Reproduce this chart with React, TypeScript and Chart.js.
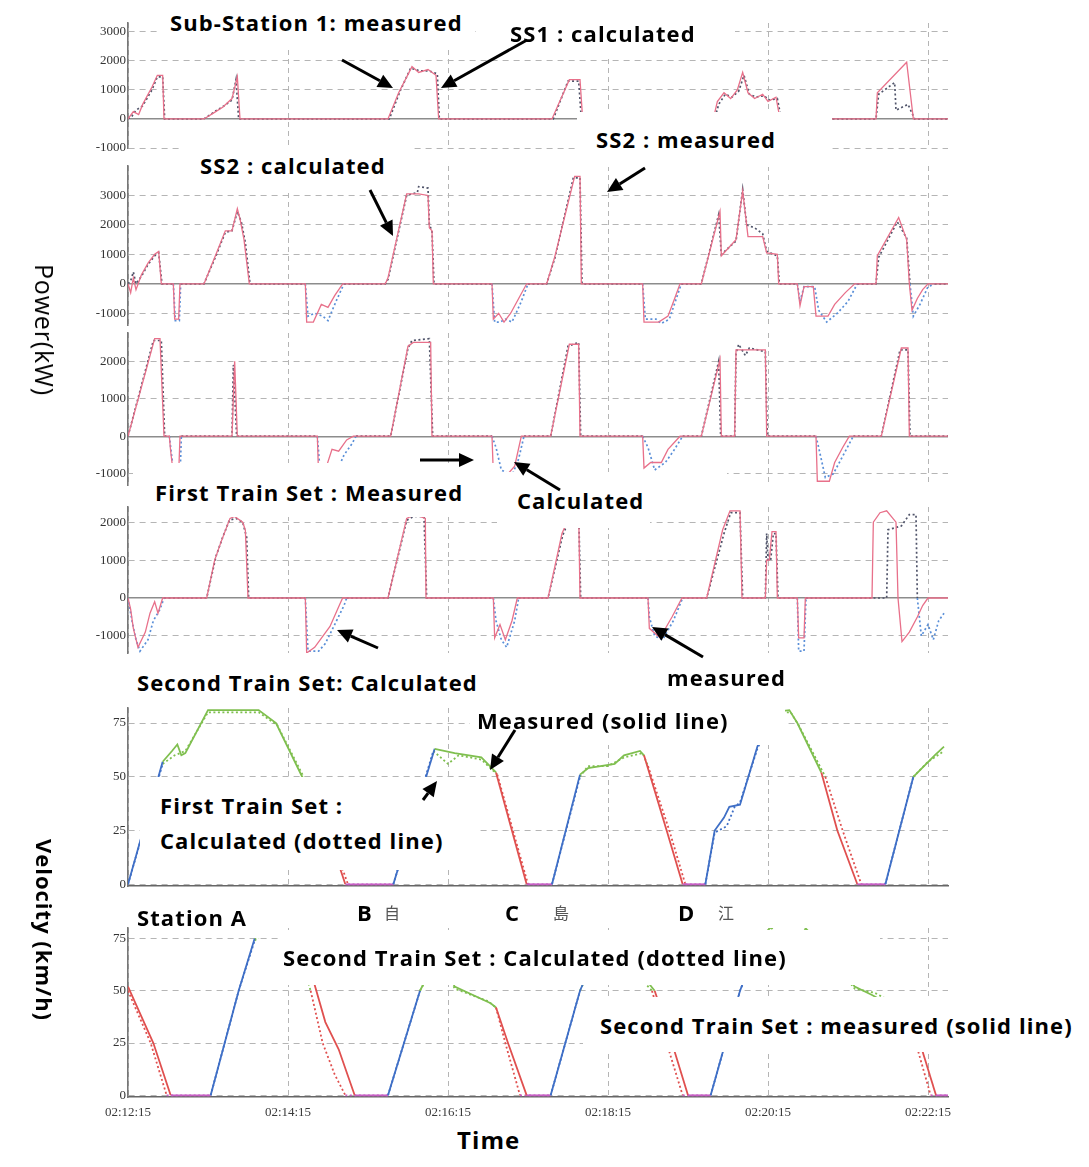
import React, { useEffect, useRef } from "react";
import { Chart, registerables } from "chart.js";
Chart.register(...registerables);

// ---------------- DATA ----------------
const timeTicks = [0, 120, 240, 360, 480, 600];
const timeLabels = ["02:12:15", "02:14:15", "02:16:15", "02:18:15", "02:20:15", "02:22:15"];
const timeMax = 615;

const ss1Ticks = [-1000, 0, 1000, 2000, 3000];
const ss2Ticks = [-1000, 0, 1000, 2000, 3000];
const train1Ticks = [-1000, 0, 1000, 2000];
const train2Ticks = [-1000, 0, 1000, 2000];
const velTicks = [0, 25, 50, 75];

const ss1Measured = [[0,0],[4,250],[8,150],[11,500],[18,1100],[22,1500],[26,1500],[27,0],[57,0],[64,200],[71,400],[78,700],[82,1450],[84,0],[195,0],[203,900],[213,1800],[218,1600],[225,1700],[231,1500],[233,0],[318,0],[331,1350],[339,1350],[341,0],[439,0],[442,600],[447,900],[452,700],[457,1000],[461,1600],[465,900],[470,700],[476,850],[480,600],[486,750],[489,0],[561,0],[562,900],[584,1950],[589,0],[615,0]];
const ss1Calculated = [[0,0],[3,100],[6,300],[11,450],[18,1000],[22,1450],[26,1450],[27.5,0],[57,0],[65,250],[72,450],[78,650],[81,1350],[83,0],[196,0],[204,950],[212,1750],[219,1650],[226,1650],[232,1550],[233.5,0],[319,0],[330,1300],[338,1300],[340,0],[440,0],[443,500],[448,850],[453,750],[458,950],[462,1500],[466,850],[471,750],[477,800],[481,650],[487,700],[490,0],[561,0],[563,850],[575,1250],[576,300],[585,500],[590,0],[615,0]];

const ss2Measured = [[0,0],[2,-300],[4,200],[6,-200],[10,300],[15,700],[20,1000],[23,1100],[25,0],[34,0],[35,-1200],[38,-1200],[39,0],[57,0],[66,1000],[73,1800],[78,1800],[82,2550],[84,2200],[87,1500],[91,0],[133,0],[134,-1300],[139,-1300],[145,-700],[150,-800],[155,-400],[161,0],[193,0],[195,200],[209,3050],[218,3050],[225,3000],[226,1900],[228,1800],[229,0],[273,0],[274,-1200],[278,-1000],[282,-1300],[287,-1000],[293,-500],[299,0],[314,0],[320,900],[335,3650],[339,3650],[340,0],[386,0],[387,-1300],[398,-1300],[405,-1100],[410,-500],[414,0],[430,0],[444,2450],[445,950],[456,1500],[461,3150],[465,1600],[476,1600],[479,1050],[487,1000],[488,0],[502,0],[504,-750],[507,-100],[514,-100],[516,-1100],[525,-1100],[530,-700],[538,-300],[545,0],[561,0],[562,950],[578,2250],[584,1500],[586,0],[588,-900],[592,-500],[596,-200],[600,0],[615,0]];
const ss2Calculated = [[0,0],[2,100],[4,400],[6,0],[10,250],[15,650],[20,950],[23,1050],[25.5,0],[34,0],[35.5,-1250],[38.5,-1250],[39.5,0],[57,0],[66,950],[73,1750],[78,1800],[82,2450],[85,2100],[88,1400],[91.5,0],[133,0],[135,-1100],[140,-1000],[146,-1100],[150,-1250],[156,-600],[162,0],[193,0],[195,150],[209,3000],[217,3100],[218,3300],[225,3250],[226,2000],[228,1800],[229.5,0],[273,0],[275,-1300],[279,-1300],[283,-1200],[288,-1300],[295,-600],[300,0],[314,0],[320,850],[334,3600],[339,3600],[340.5,0],[386,0],[388,-1200],[396,-1200],[400,-1350],[406,-1200],[412,-400],[415,0],[430,0],[443,2350],[445,1000],[456,1450],[461,3200],[464,2000],[470,1900],[476,1700],[479,1100],[487,950],[488.5,0],[502,0],[504,-600],[507,-100],[515,-100],[518,-900],[524,-1300],[532,-1000],[540,-600],[547,0],[561,0],[563,900],[577,2100],[584,1550],[586.5,0],[589,-1100],[594,-700],[600,-100],[605,0],[615,0]];

const train1Measured = [[0,0],[20,2600],[24,2600],[27,0],[31,0],[32,-400],[34,-1000],[38,-1000],[39,0],[78,0],[80,2000],[82,0],[142,0],[143,-1100],[148,-900],[153,-350],[158,-400],[164,-100],[169,0],[197,0],[210,2400],[214,2500],[227,2500],[228,0],[273,0],[274,-1000],[285,-1000],[290,-800],[295,0],[317,0],[331,2450],[338,2450],[339,0],[386,0],[387,-850],[392,-700],[400,-700],[405,-350],[414,0],[430,0],[444,2050],[445,0],[455,0],[456,2300],[460,2300],[478,2300],[479,0],[516,0],[517,-1200],[526,-1200],[530,-700],[536,-300],[541,0],[565,0],[580,2350],[585,2350],[586,0],[615,0]];
const train1Calculated = [[0,0],[19,2550],[25,2550],[27.5,0],[31,0],[33,-600],[35,-1100],[39,-1100],[40,0],[78,0],[79,1900],[81.5,0],[142,0],[144,-900],[150,-1100],[156,-1000],[162,-500],[168,-200],[171,0],[197,0],[210,2350],[213,2550],[226,2600],[228.5,0],[273,0],[276,-300],[280,-900],[288,-1050],[293,-600],[297,0],[317,0],[330,2400],[338,2500],[339.5,0],[386,0],[390,-300],[395,-900],[403,-700],[409,-400],[416,0],[430,0],[443,2000],[444.5,0],[455,0],[456,2200],[458,2450],[463,2150],[466,2350],[478,2250],[479.5,0],[516,0],[518,-300],[523,-1100],[529,-1000],[535,-600],[544,0],[565,0],[579,2300],[585,2300],[586.5,0],[615,0]];

const train2Measured = [[0,0],[2,-300],[4,-800],[7.5,-1300],[13,-900],[16.5,-400],[20,-100],[22.5,-400],[26,0],[59,0],[65,1000],[70,1500],[76.5,2100],[80,2150],[86,2000],[88,1800],[90,0],[133,0],[134,-1450],[140,-1300],[151.5,-750],[159,-150],[161,0],[195,0],[209,2100],[215,2200],[223,2100],[223.5,0],[274,0],[275,-1050],[279,-700],[283,-1100],[288,-600],[292,0],[315,0],[325.5,1700],[333,2300],[338,2300],[339,0],[390,0],[391,-800],[399,-1050],[408,-500],[415.5,0],[434,0],[446,1800],[451.5,2300],[459,2300],[460.5,0],[478,0],[479,1000],[481,1000],[483,1750],[486,1750],[487,0],[502,0],[503,-1050],[507,-1050],[508,0],[558,0],[559,2000],[564,2250],[569,2300],[576,2000],[577.5,0],[580.5,-1150],[586,-900],[592,-500],[596,-200],[600,0],[615,0]];
const train2Calculated = [[0,0],[3,-600],[6,-1100],[9,-1400],[15,-1100],[19,-600],[24,-300],[27,0],[59,0],[66,1100],[71,1600],[76,2050],[81,2100],[86,2000],[89,1600],[90.5,0],[133,0],[135,-1400],[143,-1400],[148,-1200],[155,-700],[162,-200],[164,0],[195,0],[209,2050],[214,2150],[222,2150],[224,0],[274,0],[276,-600],[280,-1100],[284,-1300],[290,-600],[293,0],[315,0],[326,1650],[333,2250],[338,2250],[339.5,0],[390,0],[391,-500],[395,-1000],[401,-1100],[409,-600],[416,0],[434,0],[447,1700],[452,2250],[459,2250],[461,0],[478,0],[479,1700],[480,1000],[482,1000],[484,1700],[486,1700],[487.5,0],[502,0],[503,-1400],[507,-1400],[508.5,0],[569,0],[570,1800],[580,1900],[586,2200],[591,2200],[592,0],[595,-1000],[600,-700],[604,-1100],[608,-600],[612,-400]];

const vel1Measured = [[0,0],[26,57],[33,62],[37,65],[40,60],[43,61],[60,81],[98,81],[111,75],[133,47],[148,28],[163,0],[199,0],[230,63],[245,61],[265,59],[276,52],[299,0],[318,0],[339,51],[345,54],[365,56],[372,60],[384,62],[387,60],[404,25],[416,0],[433,0],[440,25],[447,31],[451,36],[459,37],[472,64],[482,80],[496,81],[502,75],[520,52],[532,25],[547,0],[568,0],[589,50],[605,60],[612,64]];
const vel1Calculated = [[0,0],[26,56],[35,60],[43,62],[60,80],[98,80],[112,74],[135,46],[150,26],[165,0],[199,0],[229,62],[240,56],[248,60],[265,58],[277,51],[300,0],[318,0],[339,50],[345,55],[360,55],[372,59],[386,61],[390,55],[406,25],[418,0],[433,0],[440,24],[449,27],[455,36],[459,38],[472,63],[484,80],[497,80],[503,74],[523,50],[536,25],[550,0],[568,0],[589,50],[600,57],[612,62]];

const vel2Measured = [[0,52],[19,25],[32,0],[62,0],[83,50],[95,75],[103,79],[127,77],[133,65],[139,55],[148,35],[158,22],[170,0],[195,0],[219,50],[232,66],[238,62],[245,52],[272,44],[276,42],[285,25],[299,0],[317,0],[328,25],[339,50],[350,66],[372,66],[385,58],[395,50],[408,25],[420,0],[437,0],[448,25],[459,50],[475,76],[485,82],[505,82],[520,72],[545,52],[558,48],[575,42],[593,27],[606,0],[615,0]];
const vel2Calculated = [[0,50],[17,25],[29,0],[62,0],[83,50],[95,74],[103,78],[127,76],[131,62],[137,50],[146,25],[155,10],[163,0],[195,0],[219,50],[232,65],[238,60],[245,51],[270,45],[276,42],[283,25],[294,0],[317,0],[328,25],[339,50],[350,65],[372,65],[383,57],[393,50],[404,25],[416,0],[437,0],[448,25],[459,50],[475,75],[485,81],[505,81],[520,71],[545,51],[560,49],[575,44],[590,27],[602,0],[615,0]];

// ---------------- LAYOUT / STYLE ----------------
const PAD = 8;
const AXIS_LEFT = 128;
const RIGHT_PAD = 1089 - 948;

type Panel = {
  top: number; height: number; min: number; max: number; ticks: number[];
  measured: number[][]; calculated: number[][]; kind: "power" | "velocity"; showX: boolean;
};

const panels: Panel[] = [
  { top: 23, height: 125, min: -1000, max: 3300, ticks: ss1Ticks, measured: ss1Measured, calculated: ss1Calculated, kind: "power", showX: false },
  { top: 166, height: 159, min: -1400, max: 4000, ticks: ss2Ticks, measured: ss2Measured, calculated: ss2Calculated, kind: "power", showX: false },
  { top: 333, height: 152, min: -1300, max: 2750, ticks: train1Ticks, measured: train1Measured, calculated: train1Calculated, kind: "power", showX: false },
  { top: 507, height: 146, min: -1450, max: 2400, ticks: train2Ticks, measured: train2Measured, calculated: train2Calculated, kind: "power", showX: false },
  { top: 708, height: 178, min: -0.8, max: 82, ticks: velTicks, measured: vel1Measured, calculated: vel1Calculated, kind: "velocity", showX: false },
  { top: 928, height: 169, min: -0.8, max: 80, ticks: velTicks, measured: vel2Measured, calculated: vel2Calculated, kind: "velocity", showX: true },
];

const X_AXIS_H = 26;

function velColor(p0: any, p1: any) {
  const dy = p1.y - p0.y;
  const dx = p1.x - p0.x || 1;
  const s = dy / dx;
  const avg = (p0.y + p1.y) / 2;
  if (p0.y <= 0.5 && p1.y <= 0.5) return "#c65fc4";
  if (s > 0) return s > 1.4 || avg < 40 ? "#3f6fc6" : "#7fbf4f";
  if (s < 0) return avg > 55 || s > -0.9 ? "#7fbf4f" : "#e0504f";
  return "#7fbf4f";
}

function PanelChart({ p }: { p: Panel }) {
  const ref = useRef<HTMLCanvasElement>(null);
  useEffect(() => {
    if (!ref.current) return;
    const isVel = p.kind === "velocity";
    const measuredDs: any = {
      data: p.measured.map(([x, y]) => ({ x, y })),
      borderColor: isVel ? "#3f6fc6" : "#e8708a",
      borderWidth: isVel ? 1.8 : 1.3,
      pointRadius: 0,
      tension: 0,
      segment: isVel ? { borderColor: (c: any) => velColor(c.p0.parsed, c.p1.parsed) } : undefined,
    };
    const calcDs: any = {
      data: p.calculated.map(([x, y]) => ({ x, y })),
      borderColor: "#50546a",
      borderWidth: isVel ? 1.8 : 1.7,
      borderDash: [2, 2.5],
      pointRadius: 0,
      tension: 0,
      segment: isVel
        ? { borderColor: (c: any) => velColor(c.p0.parsed, c.p1.parsed) }
        : { borderColor: (c: any) => (c.p0.parsed.y < 0 || c.p1.parsed.y < 0 ? "#5a8fd8" : "#50546a") },
    };
    const chart = new Chart(ref.current, {
      type: "line",
      data: { datasets: [measuredDs, calcDs] },
      options: {
        animation: false,
        responsive: false,
        maintainAspectRatio: false,
        layout: { padding: { left: 0, right: RIGHT_PAD, top: PAD, bottom: p.showX ? 0 : PAD } },
        plugins: { legend: { display: false }, tooltip: { enabled: false } },
        scales: {
          x: {
            type: "linear",
            min: 0,
            max: timeMax,
            afterBuildTicks: (s: any) => { s.ticks = timeTicks.map((v) => ({ value: v })); },
            afterFit: (s: any) => { s.height = p.showX ? X_AXIS_H : 0; s.paddingLeft = 0; s.paddingRight = 0; },
            grid: { color: "#b5b5b5", lineWidth: 1, drawTicks: false },
            border: { display: isVel, color: "#666", width: 1.6, dash: [5, 4] },
            ticks: {
              display: p.showX,
              padding: 8,
              color: "#3a3a3a",
              font: { family: "Liberation Serif", size: 13 },
              callback: (v: any) => { const i = timeTicks.indexOf(Number(v)); return i >= 0 ? timeLabels[i] : ""; },
              maxRotation: 0,
              autoSkip: false,
            },
          },
          y: {
            type: "linear",
            min: p.min,
            max: p.max,
            afterBuildTicks: (s: any) => { s.ticks = p.ticks.map((v) => ({ value: v })); },
            afterFit: (s: any) => { s.width = AXIS_LEFT; s.paddingTop = 0; s.paddingBottom = 0; },
            grid: {
              color: (c: any) => (c.tick && c.tick.value === 0 && !isVel ? "#8c8c8c" : "#b5b5b5"),
              lineWidth: (c: any) => (c.tick && c.tick.value === 0 && !isVel ? 1.4 : 1),
              drawTicks: false,
            },
            border: {
              display: true,
              color: "#777",
              width: 1.6,
              dash: (c: any) => (c.tick && c.tick.value === 0 && !isVel ? [] : [6, 5]),
            },
            ticks: {
              padding: 2,
              color: "#333",
              font: { family: "Liberation Serif", size: 13 },
              callback: (v: any) => String(v),
            },
          },
        },
      } as any,
    });
    return () => chart.destroy();
  }, [p]);
  const h = p.height + PAD + (p.showX ? X_AXIS_H : PAD);
  return (
    <canvas
      ref={ref}
      width={1089}
      height={h}
      style={{ position: "absolute", left: 0, top: p.top - PAD, width: 1089, height: h }}
    />
  );
}

const whiteBoxes = [
  [160, 2, 315, 44],
  [480, 8, 255, 50],
  [577, 112, 255, 55],
  [180, 146, 233, 46],
  [133, 463, 364, 54],
  [497, 472, 230, 33],
  [497, 505, 153, 23],
  [130, 659, 805, 40],
  [470, 700, 315, 45],
  [140, 777, 340, 93],
  [131, 898, 151, 40],
  [345, 895, 60, 35],
  [495, 895, 75, 35],
  [668, 895, 70, 35],
  [280, 930, 600, 55],
  [583, 997, 500, 55],
];

// text, left x, centre y, font size
const labels: [string, number, number, number][] = [
  ["Sub-Station 1: measured", 170, 22, 22],
  ["SS1 : calculated", 510, 33, 22],
  ["SS2 : measured", 596, 139, 22],
  ["SS2 : calculated", 200, 165, 22],
  ["First Train Set : Measured", 155, 492, 22],
  ["Calculated", 517, 500, 22],
  ["Second Train Set: Calculated", 137, 682, 22],
  ["measured", 667, 677, 22],
  ["Measured (solid line)", 477, 720, 22],
  ["First Train Set :", 160, 805, 22],
  ["Calculated (dotted line)", 160, 840, 22],
  ["Station A", 137, 917, 22],
  ["B", 357, 912, 22],
  ["C", 505, 912, 22],
  ["D", 678, 912, 22],
  ["Second Train Set : Calculated (dotted line)", 283, 957, 22],
  ["Second Train Set : measured (solid line)", 600, 1025, 22],
  ["Time", 457, 1140, 24],
];

const kanji: [string, number, number][] = [
  ["自", 384, 912],
  ["島", 553, 912],
  ["江", 718, 912],
];

const arrows = [
  [342, 60, 393, 88],
  [527, 40, 441, 88],
  [370, 190, 393, 236],
  [645, 168, 607, 192],
  [420, 460, 474, 460],
  [560, 490, 514, 462],
  [378, 648, 337, 630],
  [703, 657, 652, 627],
  [515, 730, 490, 770],
  [423, 800, 437, 781],
];

function Arrow({ a }: { a: number[] }) {
  const [x1, y1, x2, y2] = a;
  const ang = Math.atan2(y2 - y1, x2 - x1);
  const L = 15, W = 7;
  const bx = x2 - L * Math.cos(ang), by = y2 - L * Math.sin(ang);
  const px = -Math.sin(ang) * W, py = Math.cos(ang) * W;
  return (
    <g>
      <line x1={x1} y1={y1} x2={bx} y2={by} stroke="#000" strokeWidth={3} />
      <polygon points={`${x2},${y2} ${bx + px},${by + py} ${bx - px},${by - py}`} fill="#000" />
    </g>
  );
}

export default function App() {
  useEffect(() => {
    document.body.style.margin = "0";
    document.body.style.background = "#fff";
  }, []);
  const font = "'Open Sans', 'Noto Sans', sans-serif";
  return (
    <div style={{ position: "relative", width: 1089, height: 1167, background: "#fff", overflow: "hidden" }}>
      {panels.map((p, i) => (
        <PanelChart key={i} p={p} />
      ))}
      {whiteBoxes.map(([x, y, w, h], i) => (
        <div key={"b" + i} style={{ position: "absolute", left: x, top: y, width: w, height: h, background: "#fff" }} />
      ))}
      {labels.map(([t, x, y, s], i) => (
        <div
          key={"l" + i}
          style={{ position: "absolute", left: x, top: y - 16, fontFamily: font, fontWeight: 700, fontSize: s, letterSpacing: "1.1px", lineHeight: "32px", color: "#000", whiteSpace: "nowrap" }}
        >
          {t}
        </div>
      ))}
      {kanji.map(([t, x, y], i) => (
        <div
          key={"k" + i}
          style={{ position: "absolute", left: x, top: y - 10, fontFamily: "'Noto Sans CJK JP', sans-serif", fontSize: 16, lineHeight: "20px", color: "#555", whiteSpace: "nowrap" }}
        >
          {t}
        </div>
      ))}
      <div
        style={{ position: "absolute", left: 45, top: 330, transform: "translate(-50%,-50%) rotate(90deg)", fontFamily: font, fontSize: 25, letterSpacing: "0.8px", whiteSpace: "nowrap", color: "#000" }}
      >
        Power(kW)
      </div>
      <div
        style={{ position: "absolute", left: 45, top: 930, transform: "translate(-50%,-50%) rotate(90deg)", fontFamily: font, fontWeight: 700, fontSize: 22, letterSpacing: "1px", whiteSpace: "nowrap", color: "#000" }}
      >
        Velocity (km/h)
      </div>
      <svg width={1089} height={1167} style={{ position: "absolute", left: 0, top: 0, pointerEvents: "none" }}>
        {arrows.map((a, i) => (
          <Arrow key={"a" + i} a={a} />
        ))}
      </svg>
    </div>
  );
}
